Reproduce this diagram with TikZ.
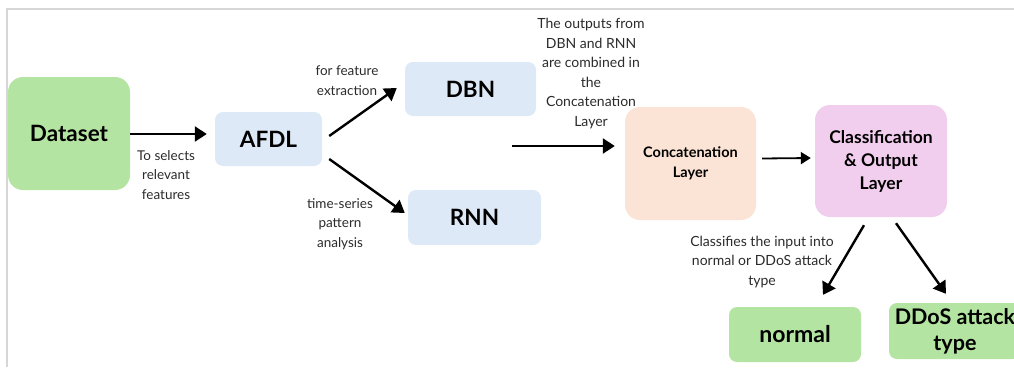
\documentclass[tikz,border=0pt]{standalone}
\usepackage{fontspec}
\setmainfont{Lato}
\usetikzlibrary{arrows.meta,calc}
\definecolor{fgreen}{HTML}{B4E4A1}
\definecolor{fblue}{HTML}{DDE9F6}
\definecolor{fpeach}{HTML}{FBE3D5}
\definecolor{fpink}{HTML}{F2CEEE}
\definecolor{framec}{HTML}{D6D6D6}
\definecolor{txt}{HTML}{2B2B2B}
\begin{document}
\begin{tikzpicture}[x=1pt,y=-1pt,
  box/.style={rectangle,rounded corners=8pt,inner sep=0pt,align=center,text=black,font=\bfseries\fontsize{22.5}{26}\selectfont},
  lbl/.style={inner sep=0pt,align=center,text=txt,font=\fontsize{13.5}{19.5}\selectfont},
  arr/.style={line width=2.4pt,-{Triangle[length=12pt,width=15pt]}},
  arrthin/.style={line width=1.8pt,-{Triangle[length=10pt,width=12pt]}}]
\useasboundingbox (0,0) rectangle (1014,367);
\draw[framec,line width=2pt] (7,367) -- (7,8.5) -- (1014,8.5);

\node[box,fill=fgreen,rounded corners=15pt,minimum width=122pt,minimum height=113pt] (ds) at (69,133.5) {Dataset};
\node[box,fill=fblue,minimum width=107pt,minimum height=54pt] (afdl) at (268.5,139) {AFDL};
\node[box,fill=fblue,minimum width=131pt,minimum height=54pt] (dbn) at (470.5,89) {DBN};
\node[box,fill=fblue,minimum width=133pt,minimum height=55pt] (rnn) at (474.5,217.5) {RNN};
\node[box,fill=fpeach,rounded corners=15pt,minimum width=131pt,minimum height=113pt,font=\bfseries\fontsize{14.5}{19.5}\selectfont] (cat) at (690.5,163.5) {Concatenation\\Layer};
\node[box,fill=fpink,rounded corners=15pt,minimum width=132pt,minimum height=112pt,font=\bfseries\fontsize{17.5}{23}\selectfont] (cls) at (881,161) {Classification\\\& Output\\Layer};
\node[box,fill=fgreen,minimum width=132pt,minimum height=55pt,font=\bfseries\fontsize{23}{26}\selectfont] (nrm) at (795,334.5) {normal};
\node[box,fill=fgreen,minimum width=132pt,minimum height=56pt,font=\bfseries\fontsize{21.5}{26}\selectfont] (ddos) at (955,331) {DDoS attack\\type};

\node[lbl] (l1) at (166,175) {To selects\\relevant\\features};
\node[lbl] (l2) at (347,80.5) {for feature\\extraction};
\node[lbl] (l3) at (340,224) {time-series\\pattern\\analysis};
\node[lbl,font=\fontsize{14}{19.5}\selectfont] (l4) at (591,73.5) {The outputs from\\DBN and RNN\\are combined in\\the\\Concatenation\\Layer};
\node[lbl,font=\fontsize{14}{19.5}\selectfont] (l5) at (762,262) {Classifies the input into\\normal or DDoS attack\\type};

\coordinate (merge) at (512,146);

\draw[arr] (ds.east |- 0,134) -- ([xshift=-8pt]afdl.west |- 0,134);
\draw[arr] ([xshift=7pt,yshift=3pt]afdl.east) -- ([xshift=-8pt,yshift=1pt]dbn.west);
\draw[arr] ([xshift=7pt,yshift=-20pt]afdl.east) -- ([xshift=-3pt,yshift=4.5pt]rnn.west);
\draw[arr] (merge) -- ([xshift=-10pt]cat.west |- merge);
\draw[arrthin] ([xshift=6pt,yshift=5pt]cat.east) -- ([xshift=-4pt,yshift=3pt]cls.west);
\draw[arr] ([xshift=-17pt,yshift=-8pt]cls.south) -- ([xshift=28pt,yshift=12pt]nrm.north);
\draw[arr] ([xshift=15pt,yshift=-6pt]cls.south) -- ([xshift=-9pt,yshift=9pt]ddos.north);
\end{tikzpicture}
\end{document}
